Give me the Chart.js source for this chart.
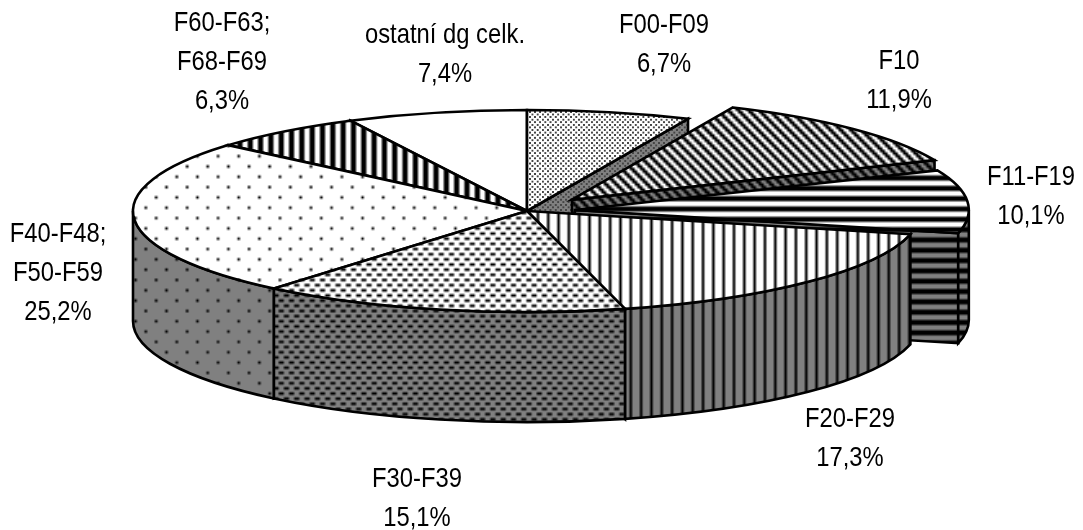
<!DOCTYPE html>
<html>
<head>
<meta charset="utf-8">
<style>
  html, body { margin: 0; padding: 0; background: #fff; }
  canvas { display: block; }
</style>
<script src="https://cdn.jsdelivr.net/npm/chart.js@4/dist/chart.umd.min.js"></script>
</head>
<body>
<canvas id="pie" width="1083" height="530"></canvas>
<script>
const categories = ["F00-F09", "F10", "F11-F19", "F20-F29", "F30-F39", "F40-F48;\nF50-F59", "F60-F63;\nF68-F69", "ostatní dg celk."];
const values = [6.7, 11.9, 10.1, 17.3, 15.1, 25.2, 6.3, 7.4];
const explode = [0, 63, 48, 0, 0, 0, 0, 0];

// 3d look
const TILT = 0.2565;
const DEPTH = 110;
const paintOrder = [7, 6, 0, 1, 5, 2, 3, 4];

// label centres, first line baseline
const labelAt = [[664, 33], [899, 69], [1031, 185], [850, 427], [417, 487], [58, 242], [222, 31], [445, 43]];
const LINE_H = 39;
const TEXT_SQUEEZE = 0.85;

// bitmap hatches, one string per row
const hatches = [
  ["###.....", "###.....", "###.....", "........", "....###.", "....###.", "....###.", "........"],
  ["#..#", "##..", ".##.", "..##"],
  ["#", "#", ".", "."],
  ["#..."],
  ["##..", "....", "..##", "...."],
  ["#.......", "........", "........", "........", "....#...", "........", "........", "........"],
  ["##.."],
  ["."]
];
const hatchScale = [0.645, 2.58, 2.58, 2.58, 2.58, 2.58, 2.58, 2.58];
const hatchInk = ["#444", "#000", "#000", "#000", "#000", "#000", "#000", "#000"];

function makePattern(ctx, rows, bg, scale, ink) {
  const cell = document.createElement("canvas");
  cell.width = rows[0].length;
  cell.height = rows.length;
  const c = cell.getContext("2d");
  c.fillStyle = bg;
  c.fillRect(0, 0, cell.width, cell.height);
  c.fillStyle = ink;
  rows.forEach((row, y) => {
    [...row].forEach((ch, x) => {
      if (ch === "#") c.fillRect(x, y, 1, 1);
    });
  });
  const p = ctx.createPattern(cell, "repeat");
  p.setTransform(new DOMMatrix().scale(scale));
  return p;
}

const ctx0 = document.getElementById("pie").getContext("2d");
const topFill = hatches.map((r, i) => makePattern(ctx0, r, "#fff", hatchScale[i], hatchInk[i]));
const wallFill = hatches.map((r, i) => makePattern(ctx0, r, "#808080", hatchScale[i], hatchInk[i]));

function paint(ctx, fill) {
  ctx.fillStyle = fill;
  ctx.fill();
  ctx.stroke();
}

function drawSlice(ctx, arc, i) {
  const off = arc.options.offset || 0;
  const mid = (arc.startAngle + arc.endAngle) / 2;
  const r = arc.outerRadius;
  const ry = r * TILT;
  const cx = arc.x + Math.cos(mid) * off;
  const cy = arc.y + Math.sin(mid) * off * TILT;
  const a0 = arc.startAngle, a1 = arc.endAngle;

  const face = a => {
    const px = cx + Math.cos(a) * r, py = cy + Math.sin(a) * ry;
    ctx.beginPath();
    ctx.moveTo(cx, cy);
    ctx.lineTo(px, py);
    ctx.lineTo(px, py + DEPTH);
    ctx.lineTo(cx, cy + DEPTH);
    ctx.closePath();
    paint(ctx, wallFill[i]);
  };
  // cut faces that look towards the viewer
  if (Math.cos(a0) < -1e-6) face(a0);
  if (Math.cos(a1) > 1e-6) face(a1);

  // outer wall, front half only
  const lo = Math.max(a0, 0), hi = Math.min(a1, Math.PI);
  if (hi > lo) {
    ctx.beginPath();
    ctx.ellipse(cx, cy, r, ry, 0, lo, hi);
    ctx.ellipse(cx, cy + DEPTH, r, ry, 0, hi, lo, true);
    ctx.closePath();
    paint(ctx, wallFill[i]);
  }

  // top
  ctx.beginPath();
  ctx.moveTo(cx, cy);
  ctx.ellipse(cx, cy, r, ry, 0, a0, a1);
  ctx.closePath();
  paint(ctx, topFill[i]);
}

const pie3d = {
  id: "pie3d",
  beforeDatasetDraw(chart, args) {
    const ctx = chart.ctx;
    const arcs = args.meta.data;
    ctx.save();
    ctx.lineWidth = 2.6;
    ctx.lineJoin = "miter";
    ctx.strokeStyle = "#000";
    paintOrder.forEach(i => drawSlice(ctx, arcs[i], i));
    ctx.restore();
    return false;
  },
  afterDraw(chart) {
    const ctx = chart.ctx;
    ctx.save();
    ctx.fillStyle = "#000";
    ctx.font = '28px "Liberation Sans"';
    ctx.textAlign = "center";
    ctx.textBaseline = "alphabetic";
    categories.forEach((name, i) => {
      const lines = name.split("\n");
      lines.push(values[i].toFixed(1).replace(".", ",") + "%");
      lines.forEach((t, n) => {
        ctx.save();
        ctx.translate(labelAt[i][0], labelAt[i][1] + n * LINE_H);
        ctx.scale(TEXT_SQUEEZE, 1);
        ctx.fillText(t, 0, 0);
        ctx.restore();
      });
    });
    ctx.restore();
  }
};

new Chart(ctx0, {
  type: "pie",
  data: {
    labels: categories,
    datasets: [{ data: values, offset: explode, borderWidth: 0 }]
  },
  options: {
    responsive: false,
    animation: false,
    radius: 394,
    layout: { padding: { left: 0, top: 0, right: 29, bottom: 108 } },
    plugins: { legend: { display: false }, tooltip: { enabled: false } }
  },
  plugins: [pie3d]
});
</script>
</body>
</html>
